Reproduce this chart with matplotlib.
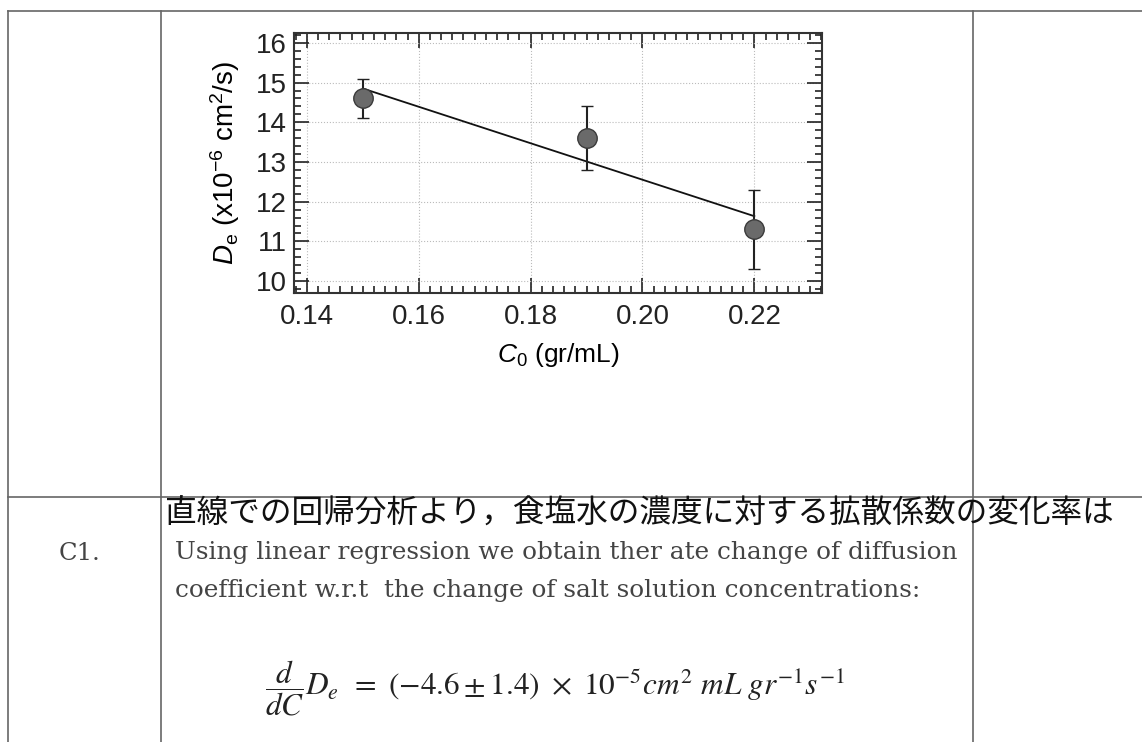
import numpy as np
import matplotlib
matplotlib.use("Agg")
import matplotlib.pyplot as plt
from matplotlib.lines import Line2D
from matplotlib.ticker import MultipleLocator, FormatStrFormatter

plt.rcParams['font.family'] = ['Liberation Sans', 'DejaVu Sans']
plt.rcParams['mathtext.fontset'] = 'custom'
plt.rcParams['mathtext.rm'] = 'Liberation Sans'
plt.rcParams['mathtext.it'] = 'Liberation Sans:italic'

# 資料
conc = [0.15, 0.19, 0.22]          # C0 (gr/mL)
diff = [14.6, 13.6, 11.3]          # De (x10^-6 cm^2/s)
diff_err = [0.5, 0.8, 1.0]

W, H = 1142, 742
fig = plt.figure(figsize=(W / 100, H / 100), dpi=100)

def px(x, y):
    return x / W, 1 - y / H

def hline(y, x0, x1, **kw):
    fig.add_artist(Line2D([x0 / W, x1 / W], [1 - y / H, 1 - y / H], transform=fig.transFigure, **kw))

def vline(x, y0, y1, **kw):
    fig.add_artist(Line2D([x / W, x / W], [1 - y0 / H, 1 - y1 / H], transform=fig.transFigure, **kw))

# 表格框線
lc = dict(color='#666666', lw=1.2)
hline(11, 8, W, **lc)
hline(497, 8, W, **lc)
vline(8, 11, H, **lc)
vline(161, 11, H, **lc)
vline(973, 11, H, **lc)

# 圖表
l, r, t, b = 294, 822, 33, 293
ax = fig.add_axes([l / W, 1 - b / H, (r - l) / W, (b - t) / H])
ax.errorbar(conc, diff, yerr=diff_err, fmt='o', ms=14, mfc='#6a6a6a', mec='#3a3a3a',
            mew=1.0, ecolor='#222222', elinewidth=1.5, capsize=4, capthick=1.5, zorder=3)
k, c0 = np.polyfit(conc, diff, 1)
xf = np.array([min(conc), max(conc)])
ax.plot(xf, k * xf + c0, color='#111111', lw=1.3, zorder=2)

ax.set_xlim(0.1377, 0.2321)
ax.set_ylim(9.7, 16.25)
ax.xaxis.set_major_locator(MultipleLocator(0.02))
ax.xaxis.set_minor_locator(MultipleLocator(0.002))
ax.xaxis.set_major_formatter(FormatStrFormatter('%.2f'))
ax.yaxis.set_major_locator(MultipleLocator(1))
ax.yaxis.set_minor_locator(MultipleLocator(0.2))
ax.tick_params(which='both', direction='in', top=True, right=True, colors='#222222',
               labelsize=20, width=1.2)
ax.tick_params(which='major', length=11, pad=5)
ax.tick_params(axis='x', which='major', pad=8)
ax.tick_params(which='minor', length=5)
for s in ax.spines.values():
    s.set_linewidth(1.5)
    s.set_color('#333333')
ax.grid(True, which='major', ls=':', color='#bbbbbb', lw=0.8)
ax.set_ylabel(r'$\mathit{D}_\mathrm{e}$ (x10$^{-6}$ cm$^2$/s)', fontsize=20, labelpad=10)
ax.set_xlabel(r'$\mathit{C}_\mathrm{0}$ (gr/mL)', fontsize=19, labelpad=8)

# 文字
fig.text(*px(165, 513), '直線での回帰分析より，食塩水の濃度に対する拡散係数の変化率は',
         family=['Noto Sans CJK JP'], fontsize=22.8, va='center', ha='left', color='#111111')
fig.text(*px(80, 553), 'C1.', family=['DejaVu Serif'], fontsize=17.5, va='center', ha='center',
         color='#444444')
fig.text(*px(175, 553), 'Using linear regression we obtain ther ate change of diffusion',
         family=['DejaVu Serif'], fontsize=17.8, va='center', ha='left', color='#444444')
fig.text(*px(175, 591), 'coefficient w.r.t  the change of salt solution concentrations:',
         family=['DejaVu Serif'], fontsize=17.8, va='center', ha='left', color='#444444')
fig.text(*px(265, 688),
         r'$\dfrac{d}{dC}D_e\,\ =\ (-4.6 \pm 1.4)\ \times\ 10^{-5} cm^2\ mL\ gr^{-1}s^{-1}$',
         math_fontfamily='stix', fontsize=22.5, va='center', ha='left', color='#222222')

fig.savefig('out.png', dpi=100)
